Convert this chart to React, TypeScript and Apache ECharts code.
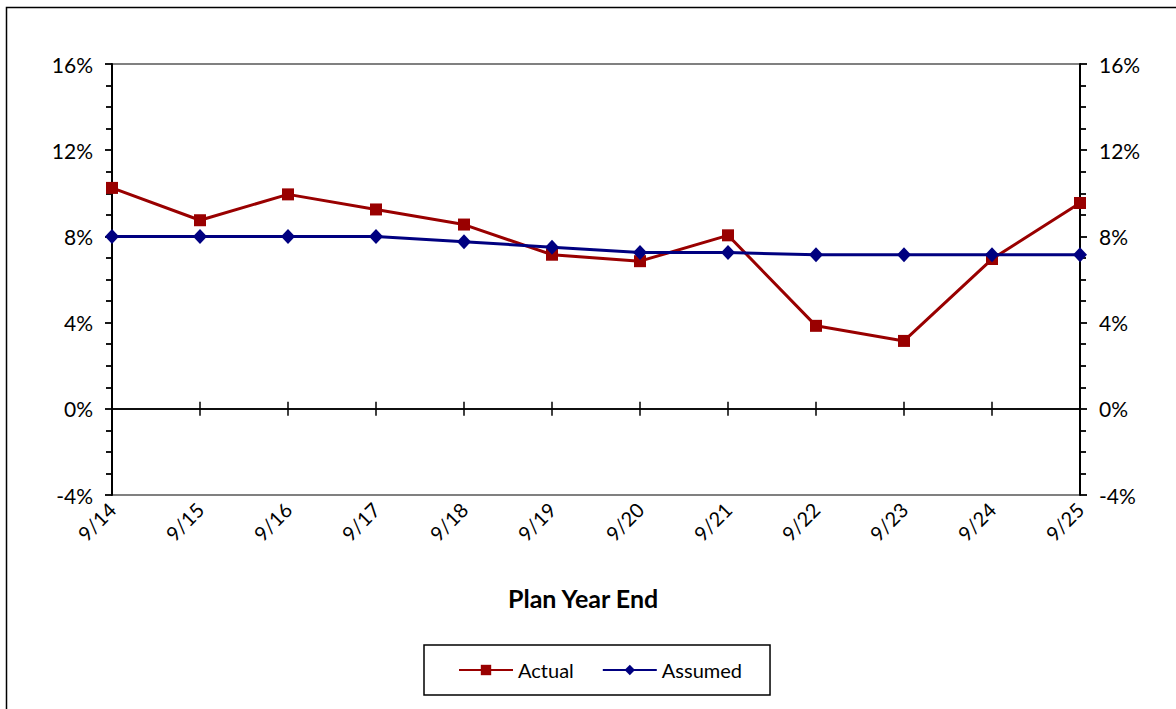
import React, { useEffect, useRef } from "react";
import * as echarts from "echarts";

const categories = ["9/14", "9/15", "9/16", "9/17", "9/18", "9/19", "9/20", "9/21", "9/22", "9/23", "9/24", "9/25"];
const actual = [10.25, 8.75, 9.95, 9.25, 8.55, 7.15, 6.85, 8.05, 3.85, 3.15, 6.95, 9.55];
const assumed = [8.0, 8.0, 8.0, 8.0, 7.75, 7.5, 7.25, 7.25, 7.15, 7.15, 7.15, 7.15];
const yTicks = { min: -4, max: 16, interval: 4 };

const FONT = "Lato, 'Open Sans', sans-serif";

export default function App() {
  const ref = useRef<HTMLDivElement>(null);
  useEffect(() => {
    document.body.style.margin = "0";
    const chart = echarts.init(ref.current!, null, { renderer: "svg" });
    const yAxisBase = (pos: "left" | "right") => ({
      type: "value",
      position: pos,
      min: yTicks.min,
      max: yTicks.max,
      interval: yTicks.interval,
      axisLine: { show: true, lineStyle: { color: "#000", width: 2 } },
      axisTick: { show: true, length: 7, lineStyle: { color: "#000", width: 1.8 } },
      minorTick: { show: true, splitNumber: 4, length: 6, lineStyle: { color: "#000", width: 1.8 } },
      splitLine: { show: false },
      axisLabel: { formatter: "{value}%", color: "#000", fontSize: 21, fontFamily: FONT, margin: 19 },
    });
    chart.setOption({
      animation: false,
      backgroundColor: "#fff",
      grid: { left: 112, right: 96, top: 64, bottom: 214, show: true, borderColor: "#808080", borderWidth: 2, backgroundColor: "transparent" },
      xAxis: [
        {
          type: "category",
          data: categories,
          boundaryGap: false,
          position: "bottom",
          axisLine: { onZero: true, lineStyle: { color: "#000", width: 1.5 } },
          axisTick: { show: true, length: 7, inside: false, lineStyle: { color: "#000", width: 1.5 } },
          axisLabel: { show: false },
          splitLine: { show: false },
        },
        {
          type: "category",
          data: categories,
          boundaryGap: false,
          position: "bottom",
          axisLine: { onZero: true, lineStyle: { color: "#000", width: 1.5 } },
          axisTick: { show: true, length: 7, inside: true, lineStyle: { color: "#000", width: 1.5 } },
          axisLabel: { show: false },
          splitLine: { show: false },
        },
        {
          type: "category",
          data: categories,
          boundaryGap: false,
          position: "bottom",
          axisLine: { show: false, onZero: false },
          axisTick: { show: false },
          axisLabel: { show: true, rotate: 45, color: "#000", fontSize: 20, fontFamily: FONT, margin: 11, interval: 0 },
          splitLine: { show: false },
        },
      ],
      yAxis: [yAxisBase("left"), yAxisBase("right")],
      legend: {
        left: 424,
        top: 645,
        orient: "horizontal",
        borderColor: "#000",
        borderWidth: 1.5,
        borderRadius: 0,
        padding: [15, 28, 15, 34],
        itemGap: 28,
        itemWidth: 54,
        itemHeight: 13,
        itemTextGap: 6,
        textStyle: { color: "#000", fontSize: 20, fontFamily: FONT },
        data: ["Actual", "Assumed"],
      },
      graphic: [
        {
          type: "rect",
          shape: { x: 6.5, y: 7.5, width: 1200, height: 800 },
          style: { fill: "none", stroke: "#000", lineWidth: 1.5 },
          silent: true,
        },
        {
          type: "text",
          left: 508,
          top: 585,
          style: { text: "Plan Year End", fontSize: 25, fontWeight: "bold", fontFamily: FONT, fill: "#000" },
        },
      ],
      series: [
        {
          name: "Actual",
          type: "line",
          data: actual,
          xAxisIndex: 0,
          yAxisIndex: 0,
          symbol: "rect",
          symbolSize: 12,
          itemStyle: { color: "#990000" },
          lineStyle: { color: "#990000", width: 3 },
          z: 3,
        },
        {
          name: "Assumed",
          type: "line",
          data: assumed,
          xAxisIndex: 0,
          yAxisIndex: 0,
          symbol: "diamond",
          symbolSize: [14, 15],
          itemStyle: { color: "#000080" },
          lineStyle: { color: "#000080", width: 3 },
          z: 4,
        },
      ],
    });
    return () => chart.dispose();
  }, []);
  return <div ref={ref} style={{ width: 1176, height: 709 }} />;
}
